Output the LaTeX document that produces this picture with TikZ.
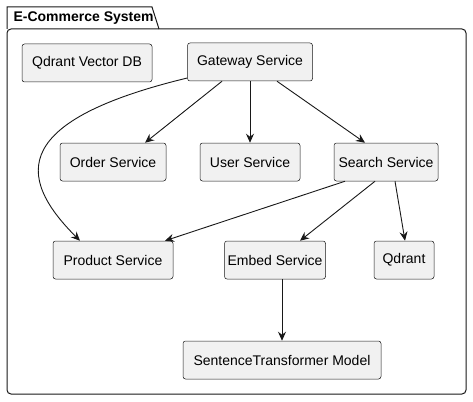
\documentclass[tikz,border=0pt]{standalone}
\usepackage{fontspec}
\setmainfont{Liberation Sans}
\usetikzlibrary{arrows.meta}
\definecolor{boxfill}{HTML}{F1F1F1}
\definecolor{edge}{HTML}{181818}
\tikzset{
  svc/.style={draw=edge, fill=boxfill, rounded corners=2.5pt, line width=0.5pt,
    minimum height=38pt, inner sep=0pt, font=\fontsize{14}{16}\selectfont},
  dep/.style={draw=edge, line width=0.9pt, -{Stealth[length=9pt,width=8pt,inset=3pt]}}
}
\begin{document}
\begin{tikzpicture}[x=1pt,y=-1pt]
    \useasboundingbox (0,0) rectangle (473,401);
    % package frame
    \draw[edge, line width=1pt] (7,29) -- (7,7) -- (152,7) -- (159,29);
    \draw[edge, line width=1pt, rounded corners=4pt] (7,29) -- (7,394) -- (466,394) -- (466,29) -- cycle;
    \node[anchor=west, font=\bfseries\fontsize{14}{16}\selectfont] (title) at (10,18) {E-Commerce System};

    \node[svc, minimum width=130pt] (qvdb) at (87,63) {Qdrant Vector DB};
    \node[svc, minimum width=125pt] (gateway) at (250,62) {Gateway Service};
    \node[svc, minimum width=106pt] (order) at (113,162) {Order Service};
    \node[svc, minimum width=100pt] (user) at (250,162) {User Service};
    \node[svc, minimum width=104pt] (search) at (386,162) {Search Service};
    \node[svc, minimum width=120pt] (product) at (113,260) {Product Service};
    \node[svc, minimum width=101pt] (embed) at (275,260) {Embed Service};
    \node[svc, minimum width=60pt] (qdrant) at (404,260) {Qdrant};
    \node[svc, minimum width=198pt] (model) at (282,360) {SentenceTransformer Model};

    \draw[dep] (gateway.south west -| 222,0) -- (order.north east -| 145,0);
    \draw[dep] (gateway) -- (user);
    \draw[dep] (gateway.south east -| 277,0) -- (search.north west -| 365,0);
    \draw[dep] (gateway.west |- 0,78) .. controls (14,120) and (14,175) .. (product.north west -| 80,0);
    \draw[dep] (search.south west -| 345,0) -- (product.north east -| 165,0);
    \draw[dep] (search.south -| 375,0) -- (embed.north -| 300,0);
    \draw[dep] (search.south -| 395,0) -- (qdrant.north -| 405,0);
    \draw[dep] (embed.south -| 282,0) -- (model);
\end{tikzpicture}
\end{document}
